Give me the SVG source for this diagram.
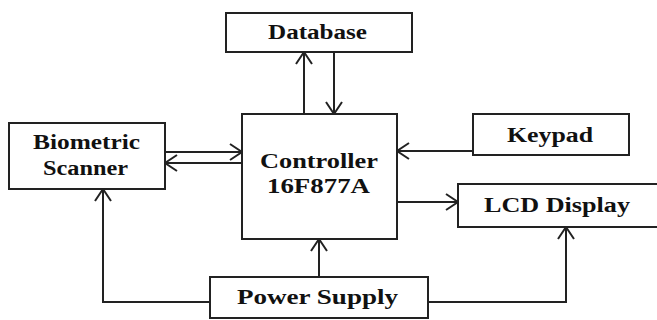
<svg xmlns="http://www.w3.org/2000/svg" width="657" height="320" viewBox="0 0 657 320">
<style>
.box{fill:#fff;stroke:#222;stroke-width:2}
.lbl{font-family:"Liberation Serif","Times New Roman",serif;font-weight:bold;font-size:20px;fill:#111;text-anchor:start}
.con{fill:none;stroke:#222;stroke-width:2;marker-end:url(#arr)}
</style>
<defs>
<marker id="arr" viewBox="-14 -10 16 20" refX="0" refY="0" markerWidth="16" markerHeight="20" markerUnits="userSpaceOnUse" orient="auto">
<path d="M-12,-8 L0,0 L-12,8" fill="none" stroke="#222" stroke-width="2"/>
</marker>
</defs>
<rect width="657" height="320" fill="#fff"/>
<g id="connectors">
<path class="con" d="M304,114 V52"/>
<path class="con" d="M334,52 V114"/>
<path class="con" d="M165,152 H242"/>
<path class="con" d="M242,163 H165"/>
<path class="con" d="M473,151 H397"/>
<path class="con" d="M397,202 H458"/>
<path class="con" d="M319,277 V239"/>
<path class="con" d="M210,302 H103 V189"/>
<path class="con" d="M428,302 H566 V227"/>
</g>
<g id="database">
<rect class="box" x="226" y="13" width="186" height="39"/>
<text class="lbl" x="268" y="39" textLength="99" lengthAdjust="spacingAndGlyphs">Database</text>
</g>
<g id="scanner">
<rect class="box" x="9" y="123" width="156" height="66"/>
<text class="lbl" x="33" y="149" textLength="107" lengthAdjust="spacingAndGlyphs">Biometric</text>
<text class="lbl" x="43" y="175" textLength="85" lengthAdjust="spacingAndGlyphs">Scanner</text>
</g>
<g id="controller">
<rect class="box" x="242" y="114" width="155" height="125"/>
<text class="lbl" x="260" y="168" font-size="22" textLength="118" lengthAdjust="spacingAndGlyphs" style="font-size:22px">Controller</text>
<text class="lbl" x="267" y="193" textLength="103" lengthAdjust="spacingAndGlyphs" style="font-size:22px">16F877A</text>
</g>
<g id="keypad">
<rect class="box" x="473" y="114" width="156" height="41"/>
<text class="lbl" x="507" y="142" textLength="86" lengthAdjust="spacingAndGlyphs">Keypad</text>
</g>
<g id="lcd">
<rect class="box" x="458" y="184" width="210" height="43"/>
<text class="lbl" x="484" y="212" textLength="146" lengthAdjust="spacingAndGlyphs">LCD Display</text>
</g>
<g id="power">
<rect class="box" x="210" y="277" width="218" height="41"/>
<text class="lbl" x="237" y="304" textLength="161" lengthAdjust="spacingAndGlyphs">Power Supply</text>
</g>
</svg>
